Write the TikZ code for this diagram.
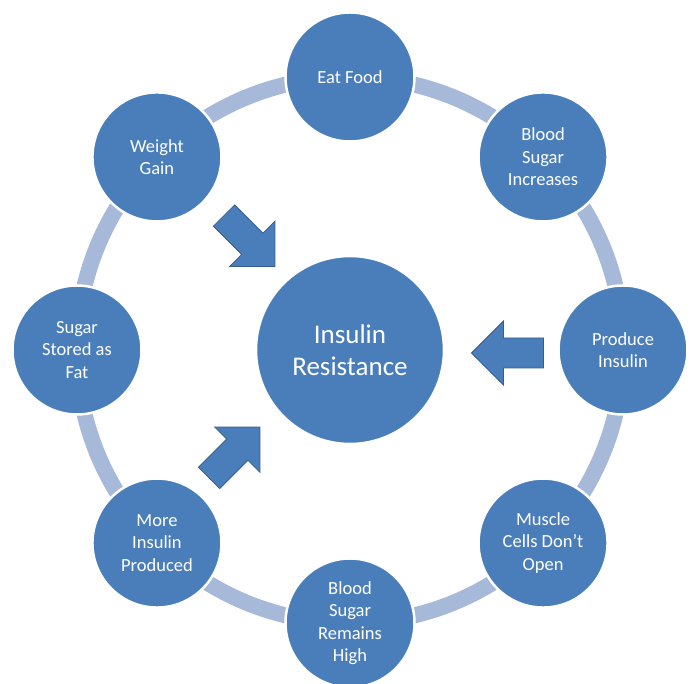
\documentclass[tikz,border=0pt]{standalone}
\usepackage{fontspec}
\setmainfont{Carlito}
\definecolor{cblue}{RGB}{74,126,187}
\definecolor{cdark}{RGB}{56,93,138}
\definecolor{cring}{RGB}{167,185,217}
\begin{document}
\begin{tikzpicture}[x=1pt,y=1pt,
  bubble/.style={circle, fill=cblue, draw=white, line width=2.5pt, text=white,
    minimum size=129pt, inner sep=0pt, align=center,
    font=\fontsize{18.5}{22.5}\selectfont},
  hub/.style={bubble, minimum size=188pt, font=\fontsize{27}{32}\selectfont},
  blockarrow/.style={fill=cblue, draw=cdark, line width=0.8pt, line join=miter},
  ring/.style={draw=cring, line width=16pt}]
\useasboundingbox (0,0) rectangle (694,684);
\begin{scope}[shift={(350,334)}]
  \coordinate (c) at (0,0);
  \draw[ring] (c) circle[radius=273];
  \node[hub] (ir) at (c) {Insulin\\Resistance};
  \node[bubble] (n1) at (90:273) {Eat Food};
  \node[bubble] (n2) at (45:273) {Blood\\Sugar\\Increases};
  \node[bubble] (n3) at (0:273) {Produce\\Insulin};
  \node[bubble] (n4) at (-45:273) {Muscle\\Cells Don’t\\Open};
  \node[bubble] (n5) at (-90:273) {Blood\\Sugar\\Remains\\High};
  \node[bubble] (n6) at (-135:273) {More\\Insulin\\Produced};
  \node[bubble] (n7) at (180:273) {Sugar\\Stored as\\Fat};
  \node[bubble] (n8) at (135:273) {Weight\\Gain};
\end{scope}
\foreach \name/\x/\y/\r in {a1/249.5/443/-45, a2/507.5/331/180, a3/234.5/231.5/45}{
  \coordinate (\name) at (\x,\y);
  \draw[blockarrow, shift={(\name)}, rotate=\r]
    (-36,-15) -- (4,-15) -- (4,-32) -- (36,0) -- (4,32) -- (4,15) -- (-36,15) -- cycle;
}
\end{tikzpicture}
\end{document}
